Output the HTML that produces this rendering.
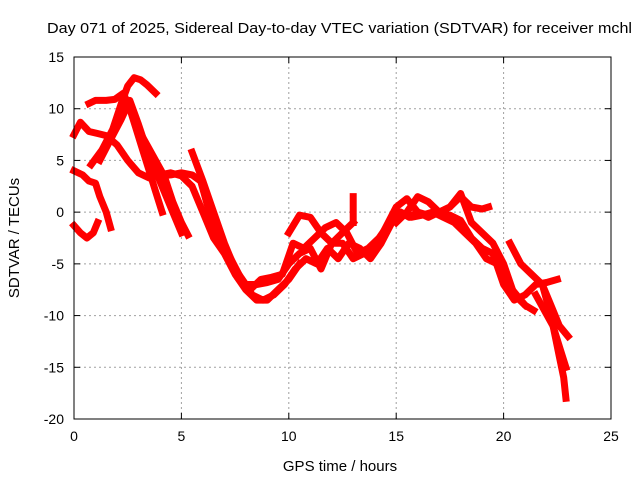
<!DOCTYPE html>
<html><head><meta charset="utf-8"><style>
body{margin:0;background:#fff;}
svg text{font-family:"Liberation Sans",sans-serif;font-size:14px;fill:#000;}
</style></head><body>
<svg id="chart" width="640" height="480" viewBox="0 0 640 480" xmlns="http://www.w3.org/2000/svg">
<rect width="640" height="480" fill="#fff"/>
<text x="47" y="33" textLength="585" lengthAdjust="spacingAndGlyphs" style="font-size:15px">Day 071 of 2025, Sidereal Day-to-day VTEC variation (SDTVAR) for receiver mchl</text>
<g id="grid"></g>
<g id="series"></g>
<rect x="74" y="57" width="537" height="362" fill="none" stroke="#000" stroke-width="1"/>
<g id="ticks"></g>
<text x="340" y="471" text-anchor="middle" style="font-size:15px">GPS time / hours</text>
<text x="19" y="238" text-anchor="middle" transform="rotate(-90 19 238)" style="font-size:15px">SDTVAR / TECUs</text>
</svg>
<script>
const xTicks=[0,5,10,15,20,25];
const yTicks=[15,10,5,0,-5,-10,-15,-20];
const trackA_x=[0,0.3,0.6,0.9,1.1];
const trackA_y=[-1.3,-2,-2.5,-2,-1];
const trackB_x=[0,0.4,0.7,1.0,1.2,1.5,1.7];
const trackB_y=[4,3.6,3.0,2.8,1.5,0,-1.5];
const trackC_x=[0,0.3,0.7,1.1,1.5,2.0,2.5,3.0,3.5,4.0,4.5,5.0,5.5,6.0,6.5,7,7.5,8,8.5,9,9.5,10,10.5];
const trackC_y=[7.5,8.7,7.8,7.6,7.4,6.5,5,3.8,3.3,3.6,3.8,3.5,2.5,0,-2.5,-4,-6,-7.5,-8.5,-8.5,-7.5,-6.5,-5];
const trackD_x=[0.7,1.0,1.5,1.9,2.3,2.6,2.9,3.2,3.5,3.8,4.1];
const trackD_y=[10.5,10.8,10.8,10.9,11.5,10,8,6,4,2,0];
const trackE_x=[0.8,1.3,1.8,2.2,2.5,2.8,3.1,3.4,3.8];
const trackE_y=[4.6,6,8,10.5,12.2,13,12.8,12.3,11.5];
const trackF_x=[1.2,1.7,2.2,2.6,3.0,3.4,3.8,4.2,4.6,5.0];
const trackF_y=[5,7,9,10.8,8.5,6,4,2,0,-2];
const trackG_x=[2.6,3.0,3.4,3.8,4.2,4.6,5.0,5.3];
const trackG_y=[10.5,8,6.5,5,3.5,1,-1,-2.2];
const trackM1_x=[4.0,4.5,5.0,5.5,5.9,6.3,6.8,7.3,7.8,8.3,8.8,9.3,9.8,10.3,10.8,11.3,11.8,12.3,12.8,13.3,13.8,14.3,14.8,15.2,15.6,16.0,16.5,17,17.5,18,18.5,19,19.5,20,20.5,21,21.5,22,22.5];
const trackM1_y=[3.5,3.6,3.8,3.6,3,0,-2.5,-4.5,-6.5,-8,-8.5,-8,-7,-5.5,-4.5,-5,-3.5,-4.5,-3,-3.5,-4.5,-3,-1,0,-0.5,0,-0.3,0,-0.3,-0.8,-2.5,-3.5,-4,-7,-8.5,-8,-7,-6.8,-6.5];
const trackM2_x=[5.5,6,6.5,7,7.5,8,8.5,9,9.5,10,10.5,11,11.5,12,12.5,13,13.5,14,14.5,15,15.5,16,16.5,17,17.5,18,18.5,19,19.5,20,20.5,21];
const trackM2_y=[5.8,3,0,-3,-5.5,-7,-7,-6.8,-6.5,-5,-4,-3.5,-5.5,-3,-3,-4.5,-4,-3.5,-1.5,0.5,1.3,0,-0.5,0,0.5,1.8,-1,-2,-3,-5,-8,-9];
const trackM3_x=[7.7,8.2,8.7,9.2,9.7,10.2,10.7,11.2,11.7,12.2,12.7,13.2,13.7,14.2,14.7,15.2,15.7,16.2,16.7,17.2,17.7,18.2,18.7,19.2,19.7,20.2,20.6,21,21.4];
const trackM3_y=[-6.5,-7.5,-6.5,-6.3,-6,-3,-3.5,-2.5,-1.5,-1,-2,-4,-3.5,-2.5,-1,0,-0.5,-0.3,0,-0.5,-1,-2,-3,-4.5,-5,-7,-8,-9,-9.5];
const trackM4_x=[10,10.5,11,11.5,12,12.5,13];
const trackM4_y=[-2,-0.3,-0.5,-2,-3,-2,-1];
const trackM5_x=[15,15.5,16,16.5,17,17.5,18,18.5,19,19.3];
const trackM5_y=[-1,0,1.5,1,0,0.5,1.5,0.5,0.3,0.5];
const trackS_x=[13,13,13];
const trackS_y=[1.5,0,-1];
const trackT1_x=[21.8,22.2,22.4,22.6,22.8,22.9];
const trackT1_y=[-7,-10,-12,-14,-16,-18];
const trackT2_x=[20.3,20.8,21.3,21.8,22.2,22.6,23];
const trackT2_y=[-3,-5,-6,-7,-9,-11,-12];
const trackT3_x=[21.5,21.9,22.3,22.6,22.9];
const trackT3_y=[-8,-9.5,-11,-13,-15];
const tracks=[[trackA_x,trackA_y],[trackB_x,trackB_y],[trackC_x,trackC_y],[trackD_x,trackD_y],[trackE_x,trackE_y],[trackF_x,trackF_y],[trackG_x,trackG_y],[trackM1_x,trackM1_y],[trackM2_x,trackM2_y],[trackM3_x,trackM3_y],[trackM4_x,trackM4_y],[trackM5_x,trackM5_y],[trackS_x,trackS_y],[trackT1_x,trackT1_y],[trackT2_x,trackT2_y],[trackT3_x,trackT3_y]];
const NS="http://www.w3.org/2000/svg";
const X0=74,X1=611,Y0=419,Y1=57;
function sx(v){return X0+(v-0)/(25-0)*(X1-X0);}
function sy(v){return Y0-(v+20)/(15+20)*(Y0-Y1);}
const grid=document.getElementById('grid'),ticks=document.getElementById('ticks'),series=document.getElementById('series');
function mk(tag,attrs,parent){const e=document.createElementNS(NS,tag);for(const k in attrs)e.setAttribute(k,attrs[k]);parent.appendChild(e);return e;}
xTicks.forEach(t=>{
  const x=sx(t);
  if(t>0&&t<25){const g=mk('line',{x1:x,x2:x,y1:Y1,y2:Y0,stroke:'#a0a0a0','stroke-dasharray':'2,3'},grid);
  
  }
  mk('line',{x1:x,x2:x,y1:Y0,y2:Y0-6,stroke:'#000'},ticks);
  mk('line',{x1:x,x2:x,y1:Y1,y2:Y1+6,stroke:'#000'},ticks);
  const l=mk('text',{x:x,y:Y0+22,'text-anchor':'middle'},ticks);l.textContent=t;
  
  
});
yTicks.forEach(t=>{
  const y=sy(t);
  if(t>-20&&t<15){const g=mk('line',{x1:X0,x2:X1,y1:y,y2:y,stroke:'#a0a0a0','stroke-dasharray':'2,3'},grid);
  
  }
  mk('line',{x1:X0,x2:X0+6,y1:y,y2:y,stroke:'#000'},ticks);
  mk('line',{x1:X1,x2:X1-6,y1:y,y2:y,stroke:'#000'},ticks);
  const l=mk('text',{x:X0-10,y:y+5,'text-anchor':'end'},ticks);l.textContent=t;
  
  
});
tracks.forEach(tr=>{
  const xs=tr[0],ys=tr[1];
  const d=xs.map((v,i)=>(i?'L':'M')+sx(v).toFixed(1)+' '+sy(ys[i]).toFixed(1)).join(' ');
  const p=mk('path',{d:d,fill:'none',stroke:'#ff0000','stroke-width':7,'stroke-linejoin':'round','stroke-linecap':'square'},series);
  
  
});
</script>
</body></html>
